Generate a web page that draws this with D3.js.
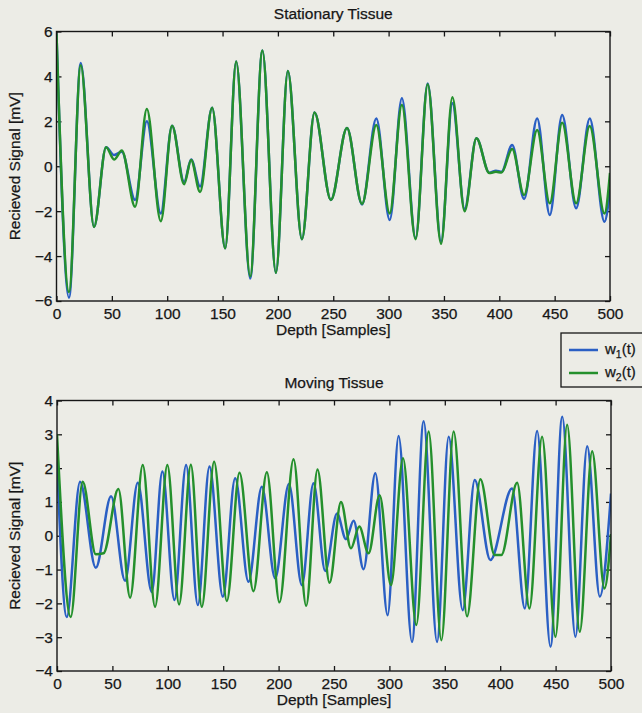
<!DOCTYPE html>
<html>
<head>
<meta charset="utf-8">
<script src="https://cdn.jsdelivr.net/npm/d3@7"></script>
<style>
  html, body { margin: 0; padding: 0; background: #ecece6; }
  svg { display: block; }
  text { font-family: "Liberation Sans", Arial, Helvetica, sans-serif; fill: #161616; }
</style>
</head>
<body>
<svg id="chart" width="642" height="713"></svg>
<script>
// ---- data -------------------------------------------------------------
const depthTicks = [0, 50, 100, 150, 200, 250, 300, 350, 400, 450, 500];
const stationaryTicks = [-6, -4, -2, 0, 2, 4, 6];
const movingTicks = [-4, -3, -2, -1, 0, 1, 2, 3, 4];
const seriesNames = ["w1(t)", "w2(t)"];

// Stationary tissue: both echoes share the same depth positions (turning points)
const stationaryDepth = [0, 11.3, 21.9, 33.9, 44.8, 52, 59, 71, 81.6, 94.2, 104.4, 115.3, 121.6, 129.7,
  140.6, 152.4, 162.3, 175, 186, 198.2, 209, 221.7, 233.1, 247.9, 262.4, 276, 288.9, 301, 312,
  324.4, 335.3, 347.4, 357.6, 368.7, 379.3, 391, 397, 402, 411.6, 422.4, 434.2, 445.6, 456.8,
  469.4, 481.7, 495, 500];
const stationaryW1 = [5.9, -5.85, 4.6, -2.7, 0.85, 0.5, 0.65, -1.5, 2.0, -2.1, 1.8, -0.7, 0.3, -0.9,
  2.6, -3.65, 4.66, -5.0, 5.15, -4.74, 4.24, -3.25, 2.39, -1.5, 1.7, -1.7, 2.13, -2.39, 3.03,
  -3.2, 3.69, -3.35, 2.8, -1.9, 1.25, -0.29, -0.2, -0.25, 0.95, -1.46, 2.13, -2.17, 2.28,
  -1.87, 2.13, -2.47, -1.0];
const stationaryW2 = [5.9, -5.6, 4.5, -2.7, 0.85, 0.3, 0.7, -1.8, 2.55, -2.45, 1.8, -0.8, 0.28, -1.15,
  2.6, -3.65, 4.66, -4.9, 5.15, -4.74, 4.24, -3.25, 2.39, -1.5, 1.7, -1.68, 1.84, -2.1, 2.73,
  -3.25, 3.65, -3.45, 3.07, -2.0, 1.25, -0.3, -0.25, -0.28, 0.77, -1.28, 1.61, -1.65, 1.94,
  -1.65, 1.79, -2.1, -0.3];

// Moving tissue: second echo is shifted in depth
const movingDepthW1 = [0, 8.8, 20.8, 35, 48.8, 61.4, 72.9, 85.5, 95.1, 106, 116.5, 127.1, 137.6,
  149.7, 160.8, 172.8, 184.9, 196.9, 209.3, 221, 231.5, 242.1, 252.7, 260.8, 267.7, 276.7,
  287.3, 298.4, 308.3, 320.4, 330.9, 343, 353.5, 366.1, 377, 391.1, 410.7, 422.2, 433.3,
  445.4, 456, 467.9, 478.5, 489.9, 500];
const movingW1 = [2.2, -2.4, 1.6, -0.95, 1.17, -1.33, 1.57, -1.66, 1.9, -1.9, 2.09, -2.05, 2.05,
  -1.8, 1.7, -1.36, 1.45, -1.26, 1.53, -1.46, 1.55, -1.04, 0.66, -0.1, 0.44, -0.99,
  1.85, -2.35, 2.95, -3.14, 3.39, -3.14, 2.93, -2.2, 1.65, -0.72, 1.4, -2.15, 3.1,
  -3.28, 3.52, -2.99, 2.65, -1.8, 1.25];
const movingDepthW2 = [0, 12.4, 23.2, 35, 42, 55.4, 66, 77.4, 88.5, 99.6, 110.2, 120.8, 130.7,
  141.8, 153.3, 164.7, 177.3, 189.4, 200.8, 213.5, 224.9, 235.1, 246, 256.3, 265.3, 272.8,
  281.2, 291.2, 301.4, 312.3, 324.3, 335.4, 346.9, 358, 370.1, 382.1, 395, 401, 415.3,
  426.4, 437.8, 449.9, 460.4, 471.8, 483, 494.1, 500];
const movingW2 = [3.0, -2.4, 1.6, -0.55, -0.52, 1.38, -1.83, 2.09, -2.1, 2.09, -2.03, 2.1, -2.1,
  2.19, -1.93, 1.86, -1.64, 1.88, -1.97, 2.26, -2.07, 1.96, -1.39, 1.0, -0.37, 0.27,
  -0.52, 1.2, -1.46, 2.29, -2.64, 3.08, -3.09, 3.08, -2.38, 1.67, -0.57, -0.57, 1.57,
  -2.15, 2.93, -2.99, 3.28, -2.84, 2.5, -1.56, 0.05];

// ---- drawing ----------------------------------------------------------
const colors = ["#2a5fc4", "#24902c"];
const svg = d3.select("#chart");
svg.append("rect").attr("width", 642).attr("height", 713).attr("fill", "#ecece6");

const FONT = 15.5;
const INK = "#161616";

function panel(opts) {
  const { left, right, top, bottom, yDomain, yTicks, title, series, clipId } = opts;
  const x = d3.scaleLinear().domain([0, 500]).range([left, right]);
  const y = d3.scaleLinear().domain(yDomain).range([bottom, top]);
  const g = svg.append("g");

  g.append("clipPath").attr("id", clipId)
    .append("rect").attr("x", left).attr("y", top)
    .attr("width", right - left).attr("height", bottom - top);

  const tick = 5;
  // bottom axis with labels
  g.append("g").attr("transform", `translate(0,${bottom})`)
    .call(d3.axisBottom(x).tickValues(depthTicks).tickSize(-tick).tickPadding(7).tickFormat(d3.format("d")))
    .call(a => a.select(".domain").remove());
  // top axis, ticks only
  g.append("g").attr("transform", `translate(0,${top})`)
    .call(d3.axisTop(x).tickValues(depthTicks).tickSize(-tick).tickFormat(""))
    .call(a => a.select(".domain").remove());
  // left axis with labels
  g.append("g").attr("transform", `translate(${left},0)`)
    .call(d3.axisLeft(y).tickValues(yTicks).tickSize(-tick).tickPadding(4).tickFormat(d3.format("d")))
    .call(a => a.select(".domain").remove());
  // right axis, ticks only
  g.append("g").attr("transform", `translate(${right},0)`)
    .call(d3.axisRight(y).tickValues(yTicks).tickSize(-tick).tickFormat(""))
    .call(a => a.select(".domain").remove());

  g.selectAll(".tick line").attr("stroke", INK).attr("stroke-width", 1.3);
  g.selectAll(".tick text").attr("font-size", FONT).attr("fill", INK)
    .attr("stroke", INK).attr("stroke-width", 0.25)
    .attr("font-family", "'Liberation Sans', Arial, sans-serif");

  const line = d3.line().x(d => x(d[0])).y(d => y(d[1])).curve(d3.curveMonotoneX);
  series.forEach((s, i) => {
    const pts = s.depth.map((d, k) => [d, s.values[k]]);
    g.append("path").datum(pts)
      .attr("d", line)
      .attr("fill", "none")
      .attr("stroke", colors[i])
      .attr("stroke-width", 2.5)
      .attr("stroke-linejoin", "round")
      .attr("clip-path", `url(#${clipId})`);
  });

  // axes box
  g.append("rect").attr("x", left).attr("y", top)
    .attr("width", right - left).attr("height", bottom - top)
    .attr("fill", "none").attr("stroke", INK).attr("stroke-width", 1.4);

  // title & labels
  const cx = (left + right) / 2;
  const label = (sel) => sel.attr("font-size", FONT).attr("stroke", INK).attr("stroke-width", 0.25);
  g.append("text").attr("x", cx).attr("y", top - 13).attr("text-anchor", "middle")
    .call(label).text(title);
  g.append("text").attr("x", cx).attr("y", bottom + 34).attr("text-anchor", "middle")
    .call(label).text("Depth [Samples]");
  g.append("text")
    .attr("transform", `translate(${left - 37},${(top + bottom) / 2}) rotate(-90)`)
    .attr("text-anchor", "middle").call(label)
    .text("Recieved Signal [mV]");
}

panel({
  left: 56.5, right: 610, top: 31.5, bottom: 301,
  yDomain: [-6, 6], yTicks: stationaryTicks, title: "Stationary Tissue", clipId: "clipTop",
  series: [
    { depth: stationaryDepth, values: stationaryW1 },
    { depth: stationaryDepth, values: stationaryW2 }
  ]
});

panel({
  left: 57, right: 611, top: 400.5, bottom: 671,
  yDomain: [-4, 4], yTicks: movingTicks, title: "Moving Tissue", clipId: "clipBottom",
  series: [
    { depth: movingDepthW1, values: movingW1 },
    { depth: movingDepthW2, values: movingW2 }
  ]
});

// legend
const legend = svg.append("g");
legend.append("rect").attr("x", 561).attr("y", 333).attr("width", 95).attr("height", 54)
  .attr("fill", "#ecece6").attr("stroke", INK).attr("stroke-width", 1.3);
seriesNames.forEach((name, i) => {
  const yy = 350 + i * 23;
  legend.append("line").attr("x1", 569).attr("x2", 598).attr("y1", yy).attr("y2", yy)
    .attr("stroke", colors[i]).attr("stroke-width", 2.5);
  const t = legend.append("text").attr("x", 605).attr("y", yy + 4).attr("font-size", 15)
    .attr("stroke", INK).attr("stroke-width", 0.25);
  t.append("tspan").text(name[0]);
  t.append("tspan").attr("font-size", 10.5).attr("dy", 4).text(name[1]);
  t.append("tspan").attr("dy", -4).text(name.slice(2));
});
</script>
</body>
</html>
